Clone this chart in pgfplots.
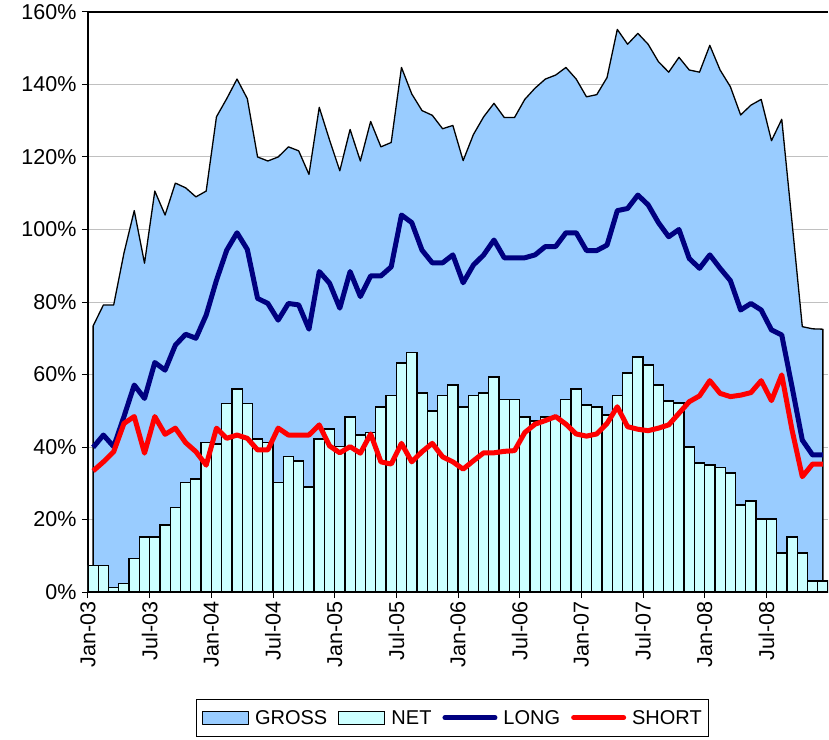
\documentclass[border=0pt]{standalone}
\usepackage{fontspec}
\setmainfont{Liberation Sans}
\usepackage{pgfplots}
\usepackage{pgfplotstable}
\pgfplotsset{compat=1.18}

\definecolor{grossc}{RGB}{153,204,255}
\definecolor{netc}{RGB}{204,255,255}
\definecolor{longc}{RGB}{0,0,128}
\definecolor{shortc}{RGB}{255,0,0}
\definecolor{gridc}{RGB}{192,192,192}

% monthly, Jan-03 = 0 ... Dec-08 = 71 (values in %)
\pgfplotstableread{
i  gross  net   long   short
0  73.4   7.4   39.9   33.4
1  79.2   7.4   43.3   35.9
2  79.2   1.3   40.1   38.7
3  93.5   2.4   48.4   46.5
4  105.2  9.2   57.1   48.4
5  90.7   15.2  53.4   38.3
6  110.6  15.2  63.3   48.4
7  104.0  18.5  61.2   43.5
8  112.8  23.4  68.1   45.2
9  111.5  30.2  71.1   41.2
10 109.0  31.2  70.0   38.7
11 110.6  41.2  76.4   35.0
12 131.1  40.8  86.0   45.2
13 136.1  52.0  94.3   42.4
14 141.5  56.0  99.1   43.3
15 136.1  52.0  94.5   42.4
16 120.0  42.2  81.0   39.2
17 118.9  41.2  79.6   39.2
18 120.0  30.2  75.0   45.2
19 122.8  37.3  79.6   43.3
20 121.7  36.1  79.2   43.3
21 115.2  29.0  72.5   43.3
22 133.7  42.2  88.4   46.1
23 124.7  45.0  85.2   40.3
24 116.2  40.1  78.3   38.4
25 127.6  48.3  88.4   40.1
26 118.9  43.3  81.5   38.3
27 129.8  44.0  87.2   43.6
28 122.8  51.0  87.2   35.9
29 124.0  54.3  89.7   35.3
30 144.7  63.2  104.0  41.0
31 137.4  66.0  101.9  35.9
32 132.8  54.9  94.3   38.7
33 131.5  49.9  90.8   41.0
34 127.8  54.3  90.8   37.3
35 128.7  57.1  93.0   35.9
36 119.0  51.0  85.3   33.9
37 126.2  54.3  90.2   36.2
38 131.1  54.9  93.0   38.4
39 134.8  59.3  97.1   38.4
40 130.9  53.2  92.2   38.8
41 130.9  53.2  92.2   39.0
42 135.9  48.3  92.2   44.0
43 139.0  47.2  93.0   46.3
44 141.5  48.3  95.3   47.3
45 142.6  48.3  95.3   48.4
46 144.7  53.2  99.1   46.3
47 141.5  56.0  99.1   43.6
48 136.6  51.6  94.2   43.0
49 137.2  51.0  94.2   43.6
50 141.9  48.8  95.7   46.5
51 155.2  54.3  105.2  51.1
52 151.1  60.4  105.8  45.6
53 154.1  64.8  109.5  44.9
54 151.1  62.6  106.8  44.5
55 146.3  57.1  101.9  45.2
56 143.4  52.7  98.0   46.1
57 147.5  52.1  100.0  49.3
58 144.0  40.0  92.0   52.5
59 143.4  35.6  89.3   54.1
60 150.8  35.0  93.0   58.3
61 144.0  34.3  89.3   54.8
62 139.4  32.8  85.9   53.9
63 131.6  24.0  77.8   54.3
64 134.3  25.1  79.6   55.0
65 135.9  20.1  77.8   58.3
66 124.5  20.1  72.3   52.8
67 130.4  10.8  70.9   59.9
68 102.0  15.2  56.6   44.7
69 73.2   10.8  41.9   31.8
70 72.6   3.0   37.8   35.3
71 72.5   3.0   37.8   35.3
}\exposure

\begin{document}
\begin{tikzpicture}
\begin{axis}[
  width=740pt, height=580pt, scale only axis,
  xmin=-0.5, xmax=71.5, ymin=0, ymax=160,
  axis x line*=bottom, axis y line*=left,
  axis line style={black, line width=1.2pt},
  xtick={-0.5,5.5,...,65.5},
  xticklabels={Jan-03,Jul-03,Jan-04,Jul-04,Jan-05,Jul-05,Jan-06,Jul-06,Jan-07,Jul-07,Jan-08,Jul-08},
  ytick={0,20,...,160},
  yticklabels={0\%,20\%,40\%,60\%,80\%,100\%,120\%,140\%,160\%},
  tick align=outside,
  major tick length=6pt,
  tick style={black, line width=1pt},
  ymajorgrids, grid style={gridc, line width=1pt},
  tick label style={font=\fontsize{21.5}{25}\selectfont},
  xticklabel style={rotate=90, anchor=east},
  yticklabel style={xshift=-2pt},
  legend columns=4,
  legend style={at={(0.493,-0.1845)}, anchor=north, draw=black, line width=0.8pt,
    font=\fontsize{20}{24}\selectfont, inner xsep=5pt, inner ysep=9pt,
    /tikz/every odd column/.append style={column sep=4pt},
    /tikz/every even column/.append style={column sep=9pt}},
  legend cell align=left,
]
  % GROSS area
  \addplot[fill=grossc, draw=black, line width=1.3pt, line join=round,
    legend image code/.code={\draw[fill=grossc, draw=black, line width=1.2pt] (0pt,-6pt) rectangle (46pt,7pt);}]
    table[x=i, y=gross] {\exposure} \closedcycle;
  \addlegendentry{GROSS}

  % NET bars
  \addplot[ybar, bar width=1, bar shift=0pt, fill=netc, draw=black, line width=1.3pt,
    legend image code/.code={\draw[fill=netc, draw=black, line width=1.2pt] (0pt,-6pt) rectangle (46pt,7pt);}]
    table[x=i, y=net] {\exposure};
  \addlegendentry{NET}

  % LONG
  \addplot[longc, line width=5pt, line join=round, mark=none,
    legend image code/.code={\draw[longc, line width=5pt, line cap=round] (0pt,0.5pt) -- (50pt,0.5pt);}]
    table[x=i, y=long] {\exposure};
  \addlegendentry{LONG}

  % SHORT
  \addplot[shortc, line width=5pt, line join=round, mark=none,
    legend image code/.code={\draw[shortc, line width=5pt, line cap=round] (0pt,0.5pt) -- (50pt,0.5pt);}]
    table[x=i, y=short] {\exposure};
  \addlegendentry{SHORT}

  \draw[black, line width=1.2pt] (rel axis cs:0,1) -- (rel axis cs:1,1);
\end{axis}
\pgfresetboundingbox
\path (current axis.south west) ++(-88pt,-147pt);
\path (current axis.north east) ++(1pt,12pt);
\end{tikzpicture}
\end{document}
